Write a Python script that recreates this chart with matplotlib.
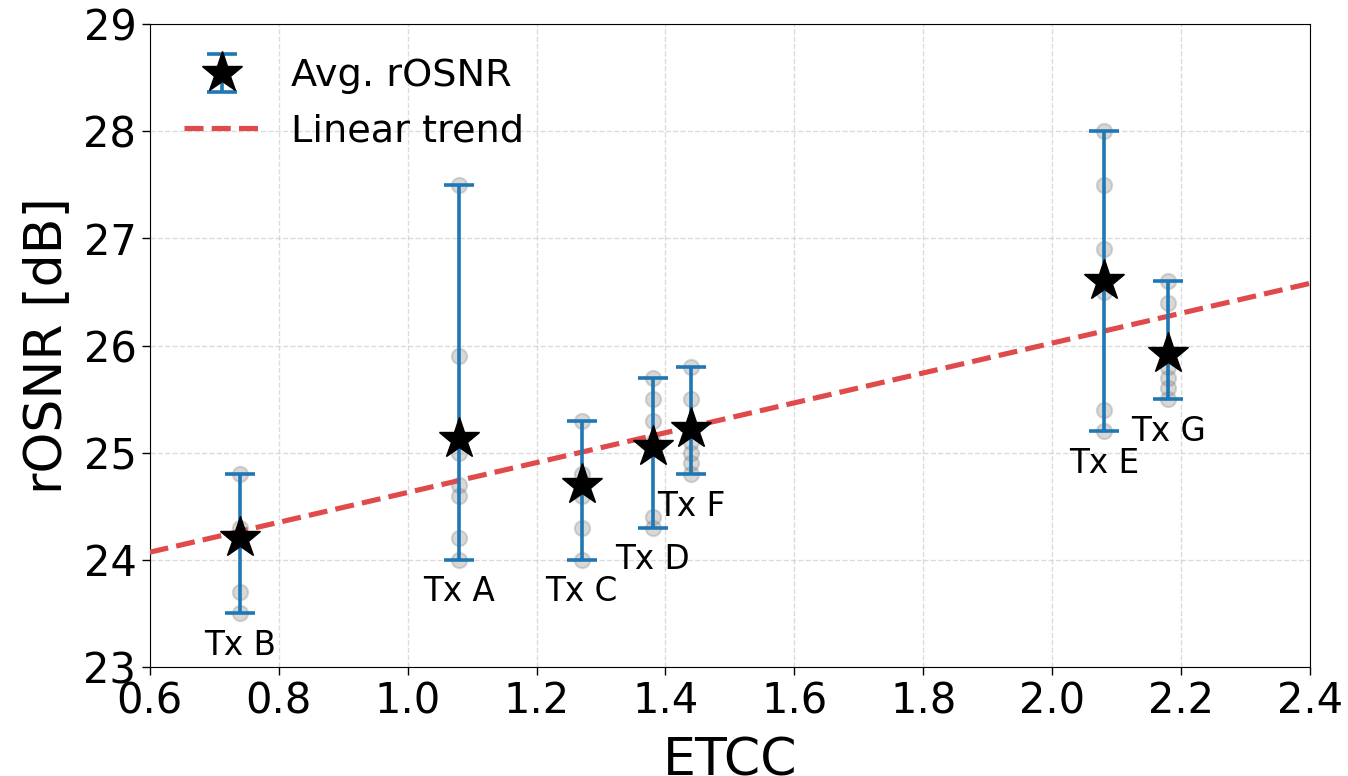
import numpy as np
import matplotlib
matplotlib.use("Agg")
import matplotlib.pyplot as plt

labels = ["Tx B", "Tx A", "Tx C", "Tx D", "Tx F", "Tx E", "Tx G"]
etcc = [0.74, 1.08, 1.27, 1.38, 1.44, 2.08, 2.18]
samples = [
    [24.8, 24.3, 24.2, 23.7, 23.5],
    [27.5, 25.9, 25.0, 24.7, 24.6, 24.2, 24.0],
    [25.3, 24.8, 24.6, 24.3, 24.0, 24.7],
    [25.7, 25.5, 25.3, 25.1, 24.4, 24.3],
    [25.8, 25.5, 25.1, 25.0, 24.9, 24.8],
    [28.0, 27.5, 26.9, 26.5, 25.4, 25.2],
    [26.6, 26.4, 25.9, 25.8, 25.7, 25.6, 25.5],
]
avg = [24.2, 25.13, 24.7, 25.05, 25.22, 26.6, 25.92]
ymin_vals = [23.5, 24.0, 24.0, 24.3, 24.8, 25.2, 25.5]
ymax_vals = [24.8, 27.5, 25.3, 25.7, 25.8, 28.0, 26.6]

fig = plt.figure(figsize=(13.48, 7.76), dpi=100)
ax = fig.add_axes([0.111, 0.1405, 0.861, 0.8285])

for x, s in zip(etcc, samples):
    ax.plot([x] * len(s), s, 'o', color='grey', alpha=0.3, markersize=11,
            markeredgewidth=1.5, zorder=2)

avg_a = np.array(avg)
yerr = [avg_a - np.array(ymin_vals), np.array(ymax_vals) - avg_a]
eb = ax.errorbar(etcc, avg, yerr=yerr, fmt='*', color='black', ecolor='#1f77b4',
                 elinewidth=2.6, capsize=10.5, capthick=2.6, markersize=31,
                 zorder=4, label='Avg. rOSNR')

coef = np.polyfit(etcc, avg, 1)
xx = np.array([0.6, 2.4])
tr, = ax.plot(xx, np.polyval(coef, xx), '--', color='#e04a4a', linewidth=3.7,
              zorder=3, label='Linear trend')

for lab, x, lo in zip(labels, etcc, ymin_vals):
    ax.text(x, lo - 0.3, lab, ha='center', va='center', fontsize=23.5)

ax.set_xlim(0.6, 2.4)
ax.set_ylim(23, 29)
ax.set_xticks(np.arange(0.6, 2.41, 0.2))
ax.set_yticks(np.arange(23, 29.1, 1))
ax.tick_params(labelsize=30, length=6, width=1)
ax.set_xlabel('ETCC', fontsize=37.5, labelpad=10)
ax.set_ylabel('rOSNR [dB]', fontsize=37.5, labelpad=8)
ax.grid(True, linestyle='--', color='#cccccc', alpha=0.7, linewidth=1)
ax.set_axisbelow(True)
ax.legend([eb, tr], ['Avg. rOSNR', 'Linear trend'], loc='upper left',
          frameon=False, fontsize=27.5, handlelength=2.0,
          bbox_to_anchor=(0.0, 1.0))

fig.savefig('out.png', dpi=100)
